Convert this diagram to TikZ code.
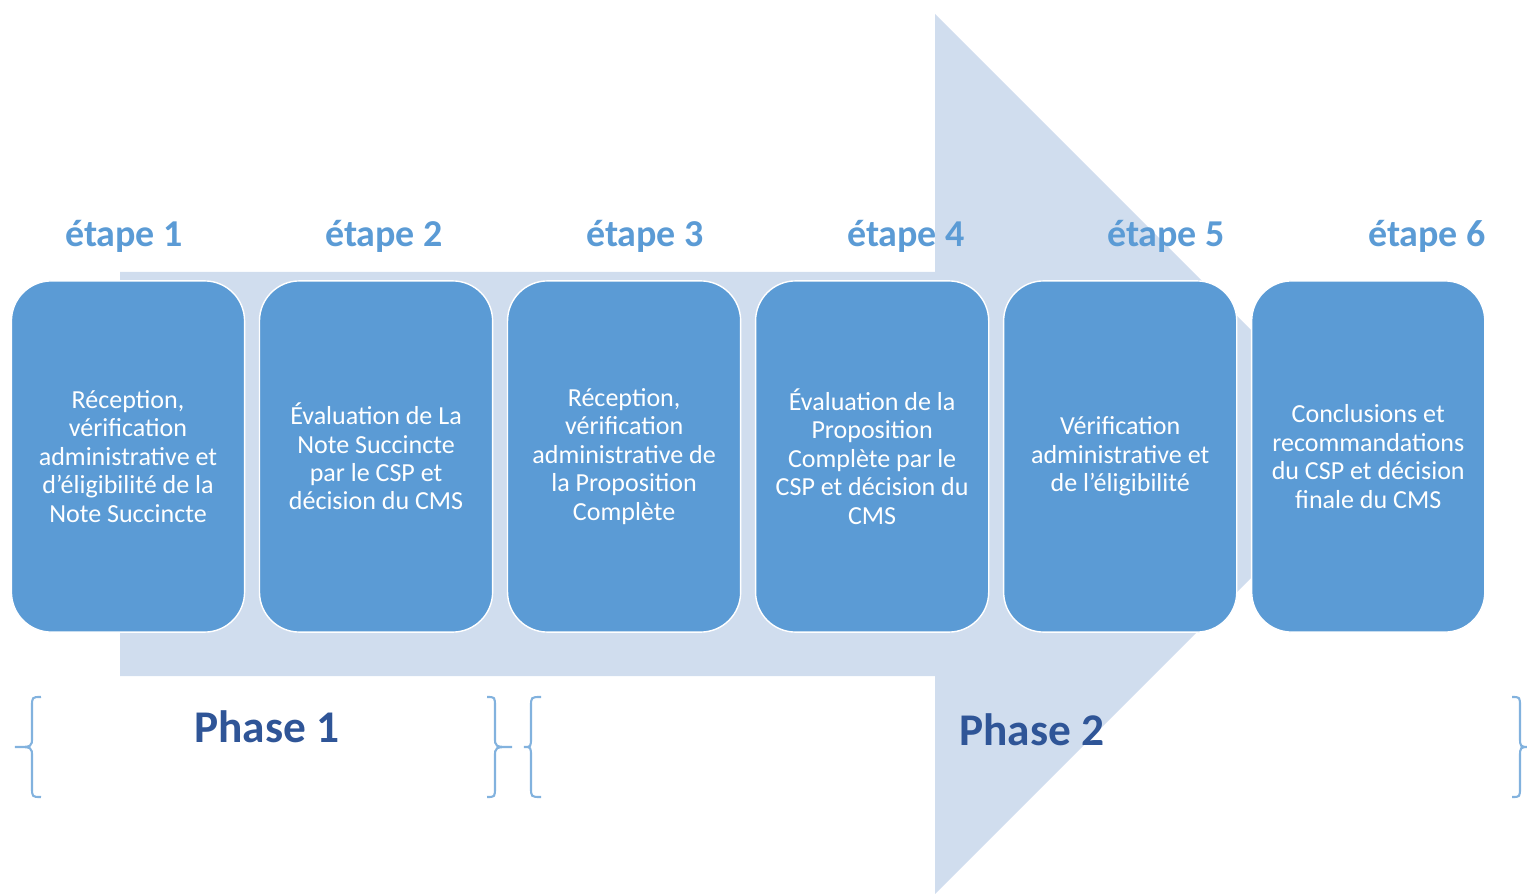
\documentclass[tikz,border=0pt]{standalone}
\usepackage{fontspec}
\setmainfont{Carlito}
\usepackage{tikz}
\usetikzlibrary{positioning}
\definecolor{stepblue}{RGB}{91,155,213}
\definecolor{arrowback}{RGB}{208,221,238}
\definecolor{phaseblue}{RGB}{47,85,151}
\definecolor{bracecol}{RGB}{130,178,222}

\begin{document}
\begin{tikzpicture}[
    x=0.01cm, y=-0.01cm,
    node distance=0.135cm,
    stepbox/.style={rectangle, rounded corners=0.4cm, draw=white, thin, fill=stepblue, text=white, minimum width=2.33cm, minimum height=3.51cm, align=center, inner sep=2pt, font=\fontsize{7.4}{8.1}\selectfont},
    etape/.style={text=stepblue, font=\fontsize{10.8}{13}\selectfont\bfseries},
    phase/.style={text=phaseblue, font=\fontsize{12.9}{15}\selectfont\bfseries},
    accol/.style={draw=bracecol, line width=0.6pt}
]
    \useasboundingbox (0,0) rectangle (1527,894);

    % big arrow behind the steps
    \fill[arrowback] (120,272) -- (935,272) -- (935,14) -- (1375,454) -- (935,894) -- (935,676) -- (120,676) -- cycle;

    \node[stepbox] (box1) at (128,456.5) {Réception,\\vérification\\administrative et\\d’éligibilité de la\\Note Succincte};
    \node[stepbox, right=of box1] (box2) {Évaluation de La\\Note Succincte\\par le CSP et\\décision du CMS};
    \node[stepbox, right=of box2] (box3) {Réception,\\vérification\\administrative de\\la Proposition\\Complète};
    \node[stepbox, right=of box3] (box4) {Évaluation de la\\Proposition\\Complète par le\\CSP et décision du\\CMS};
    \node[stepbox, right=of box4] (box5) {Vérification\\administrative et\\de l’éligibilité};
    \node[stepbox, right=of box5] (box6) {Conclusions et\\recommandations\\du CSP et décision\\finale du CMS};

    \node[etape] (et1) at (124,236) {étape 1};
    \node[etape] (et2) at (384,236) {étape 2};
    \node[etape] (et3) at (645,236) {étape 3};
    \node[etape] (et4) at (906,236) {étape 4};
    \node[etape] (et5) at (1166,236) {étape 5};
    \node[etape] (et6) at (1427,236) {étape 6};

    \node[phase] (ph1) at (267,727) {Phase 1};
    \node[phase] (ph2) at (1032,730) {Phase 2};

    % braces
    \draw[accol] (41,697) .. controls (32,697) .. (32,707) -- (32,737) .. controls (32,747) .. (15,747) .. controls (32,747) .. (32,757) -- (32,787) .. controls (32,797) .. (41,797);
    \draw[accol] (487,697) .. controls (495,697) .. (495,707) -- (495,737) .. controls (495,747) .. (512,747) .. controls (495,747) .. (495,757) -- (495,787) .. controls (495,797) .. (487,797);
    \draw[accol] (541,697) .. controls (531,697) .. (531,707) -- (531,737) .. controls (531,747) .. (524,747) .. controls (531,747) .. (531,757) -- (531,787) .. controls (531,797) .. (541,797);
    \draw[accol] (1512,697) .. controls (1520,697) .. (1520,707) -- (1520,737) .. controls (1520,747) .. (1530,747) .. controls (1520,747) .. (1520,757) -- (1520,787) .. controls (1520,797) .. (1512,797);
\end{tikzpicture}
\end{document}
